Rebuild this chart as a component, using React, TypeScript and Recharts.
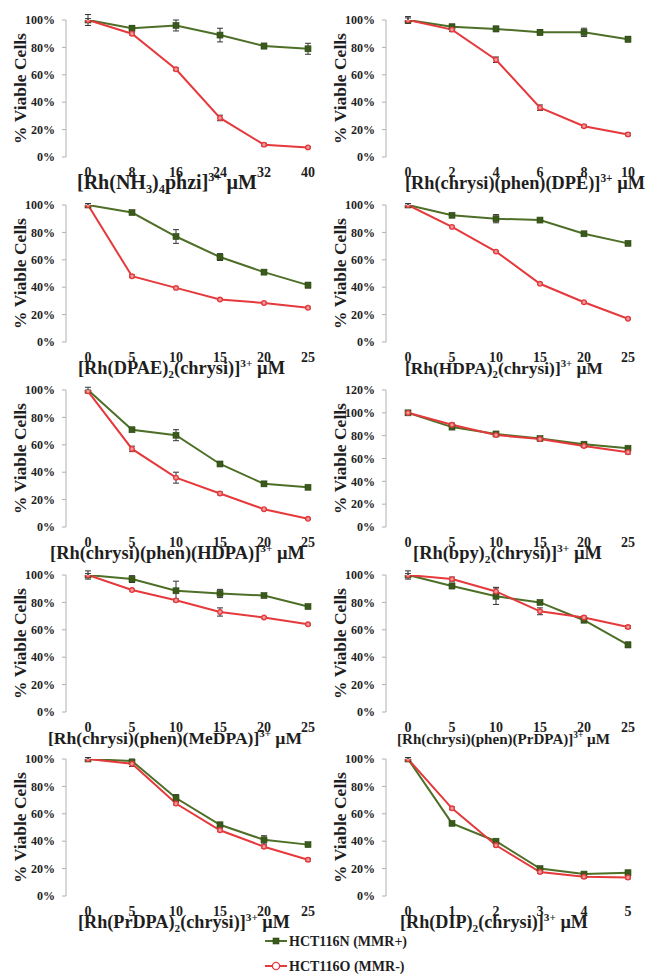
import React from "react";
import { LineChart, Line, XAxis, YAxis, ErrorBar } from "recharts";

const FONT = '"Liberation Serif", "Times New Roman", serif';
const GREEN = "#4d6f27";
const GREEN_DARK = "#3a5a1c";
const RED = "#e5393c";
const AXIS = "#b0b0b0";
const INK = "#1e1e1e";

type Part = [string, "n" | "sub" | "sup"];

// ---------- data ----------
const seriesNames = ["HCT116N (MMR+)", "HCT116O (MMR-)"];
const pctTicks = [0, 20, 40, 60, 80, 100];
const pctTicks120 = [0, 20, 40, 60, 80, 100, 120];

const conc1 = [0, 8, 16, 24, 32, 40];
const green1 = [100, 94, 96, 89, 81, 79];
const greenErr1 = [4, 2, 4, 5, 2, 4];
const red1 = [100, 90, 64, 28.5, 9, 7];
const redErr1 = [1, 1, 1, 2, 1, 0.5];
const title1: Part[] = [["[Rh(NH", "n"], ["3", "sub"], [")", "n"], ["4", "sub"], ["phzi]", "n"], ["3+", "sup"], [" µM", "n"]];

const conc2 = [0, 2, 4, 6, 8, 10];
const green2 = [100, 95, 93.5, 91, 91, 86];
const greenErr2 = [2.5, 2, 2, 2, 3, 2];
const red2 = [100, 93, 71, 36, 22.5, 16.5];
const redErr2 = [1.5, 1.5, 2, 2, 1, 1];
const title2: Part[] = [["[Rh(chrysi)(phen)(DPE)]", "n"], ["3+", "sup"], [" µM", "n"]];

const conc3 = [0, 5, 10, 15, 20, 25];
const green3 = [100, 94.5, 77, 62, 51, 41.5];
const greenErr3 = [1, 1, 5, 2.5, 1.5, 2];
const red3 = [100, 48, 39.5, 31, 28.5, 25];
const redErr3 = [1, 1, 0.5, 0.5, 0.5, 0.5];
const title3: Part[] = [["[Rh(DPAE)", "n"], ["2", "sub"], ["(chrysi)]", "n"], ["3+", "sup"], [" µM", "n"]];

const conc4 = [0, 5, 10, 15, 20, 25];
const green4 = [100, 92.5, 90, 89, 79, 72];
const greenErr4 = [1, 1, 3, 1, 1, 1];
const red4 = [100, 84, 66, 42.5, 29, 17];
const redErr4 = [1, 0.5, 0.5, 0.5, 0.5, 0.5];
const title4: Part[] = [["[Rh(HDPA)", "n"], ["2", "sub"], ["(chrysi)]", "n"], ["3+", "sup"], [" µM", "n"]];

const conc5 = [0, 5, 10, 15, 20, 25];
const green5 = [100, 71, 67, 46, 31.5, 29];
const greenErr5 = [2, 1, 4, 1, 1.5, 1];
const red5 = [99, 57, 36, 24.5, 13, 6];
const redErr5 = [1, 2, 4, 1, 0.5, 0.5];
const title5: Part[] = [["[Rh(chrysi)(phen)(HDPA)]", "n"], ["3+", "sup"], [" µM", "n"]];

const conc6 = [0, 5, 10, 15, 20, 25];
const green6 = [100, 87.5, 81.5, 77.5, 72.5, 69];
const greenErr6 = [1, 1.5, 1, 1, 1, 1];
const red6 = [100, 89.5, 80.5, 77, 71, 65.5];
const redErr6 = [1, 1.5, 1, 1, 1, 1.5];
const title6: Part[] = [["[Rh(bpy)", "n"], ["2", "sub"], ["(chrysi)]", "n"], ["3+", "sup"], [" µM", "n"]];

const conc7 = [0, 5, 10, 15, 20, 25];
const green7 = [100, 97, 88.5, 86.5, 85, 77];
const greenErr7 = [3, 2.5, 7, 3, 1, 1];
const red7 = [100, 89, 81.5, 73, 69, 64];
const redErr7 = [1, 0.5, 1, 3, 0.5, 0.5];
const title7: Part[] = [["[Rh(chrysi)(phen)(MeDPA)]", "n"], ["3+", "sup"], [" µM", "n"]];

const conc8 = [0, 5, 10, 15, 20, 25];
const green8 = [100, 92, 84.5, 80, 67, 49];
const greenErr8 = [3, 2, 6, 1, 1, 2];
const red8 = [100, 97, 88, 73.5, 69, 62];
const redErr8 = [1, 1.5, 3, 2.5, 1, 1];
const title8: Part[] = [["[Rh(chrysi)(phen)(PrDPA)]", "n"], ["3+", "sup"], [" µM", "n"]];

const conc9 = [0, 5, 10, 15, 20, 25];
const green9 = [100, 98.5, 71.5, 52, 41, 37.5];
const greenErr9 = [1, 1.5, 2.5, 1, 3, 1];
const red9 = [100, 96.5, 67.5, 48, 36, 26.5];
const redErr9 = [1, 2, 1, 1, 1, 1];
const title9: Part[] = [["[Rh(PrDPA)", "n"], ["2", "sub"], ["(chrysi)]", "n"], ["3+", "sup"], [" µM", "n"]];

const conc10 = [0, 1, 2, 3, 4, 5];
const green10 = [100, 53, 40, 20, 16, 17];
const greenErr10 = [1, 1, 1, 1, 1, 1];
const red10 = [100, 64, 37, 17.5, 14, 13.5];
const redErr10 = [1, 1, 1, 1, 1, 1];
const title10: Part[] = [["[Rh(DIP)", "n"], ["2", "sub"], ["(chrysi)]", "n"], ["3+", "sup"], [" µM", "n"]];

const panels = [
  { conc: conc1, green: green1, greenErr: greenErr1, red: red1, redErr: redErr1, title: title1, ticks: pctTicks },
  { conc: conc2, green: green2, greenErr: greenErr2, red: red2, redErr: redErr2, title: title2, ticks: pctTicks },
  { conc: conc3, green: green3, greenErr: greenErr3, red: red3, redErr: redErr3, title: title3, ticks: pctTicks },
  { conc: conc4, green: green4, greenErr: greenErr4, red: red4, redErr: redErr4, title: title4, ticks: pctTicks },
  { conc: conc5, green: green5, greenErr: greenErr5, red: red5, redErr: redErr5, title: title5, ticks: pctTicks },
  { conc: conc6, green: green6, greenErr: greenErr6, red: red6, redErr: redErr6, title: title6, ticks: pctTicks120 },
  { conc: conc7, green: green7, greenErr: greenErr7, red: red7, redErr: redErr7, title: title7, ticks: pctTicks },
  { conc: conc8, green: green8, greenErr: greenErr8, red: red8, redErr: redErr8, title: title8, ticks: pctTicks },
  { conc: conc9, green: green9, greenErr: greenErr9, red: red9, redErr: redErr9, title: title9, ticks: pctTicks },
  { conc: conc10, green: green10, greenErr: greenErr10, red: red10, redErr: redErr10, title: title10, ticks: pctTicks },
];

// ---------- layout (positions / sizes only) ----------
const rowTops = [0, 185, 370, 555, 739];
const colLefts = [0, 320];
const titleLayout = [
  { x: 77, w: 180, fs: 20 }, { x: 85, w: 240, fs: 18.5 },
  { x: 78, w: 207, fs: 18 }, { x: 85, w: 198, fs: 17.5 },
  { x: 50, w: 255, fs: 18 }, { x: 93, w: 189, fs: 18 },
  { x: 48, w: 254, fs: 17.5 }, { x: 77, w: 213, fs: 15.5 },
  { x: 78, w: 212, fs: 18 }, { x: 80, w: 188, fs: 18 },
];
const CHART_W = 330;
const CHART_H = 200;

const GreenSquare = (props: any) => {
  const { cx, cy } = props;
  if (cx == null || cy == null) return null;
  return <rect x={cx - 3} y={cy - 3} width={6} height={6} fill={GREEN_DARK} stroke="#2f4a16" strokeWidth={0.6} />;
};

const RedCircle = (props: any) => {
  const { cx, cy } = props;
  if (cx == null || cy == null) return null;
  return <circle cx={cx} cy={cy} r={2.3} fill="#f19a9a" stroke={RED} strokeWidth={1.3} />;
};

const YTitle = (props: any) => {
  const vb = props.viewBox || { x: 0, y: 0, width: 0, height: 0 };
  const x = vb.x + 20;
  const y = vb.y + vb.height / 2;
  return (
    <text x={x} y={y} transform={`rotate(-90 ${x} ${y})`} textAnchor="middle" dominantBaseline="central"
      fontFamily={FONT} fontWeight="bold" fontSize={17.5} fill={INK}>
      % Viable Cells
    </text>
  );
};

const XTitle = (props: any) => {
  const { viewBox, parts, startX, textW, fs } = props;
  const y = (viewBox ? viewBox.y : 0) + 32;
  const small = fs * 0.62;
  const subShift = fs * 0.22;
  const supShift = -fs * 0.4;
  let shift = 0;
  const spans = (parts as Part[]).map(([t, k], i) => {
    const target = k === "sub" ? subShift : k === "sup" ? supShift : 0;
    const dy = target - shift;
    shift = target;
    return (
      <tspan key={i} dy={dy} fontSize={k === "n" ? fs : small} style={{ whiteSpace: "pre" }}>
        {t}
      </tspan>
    );
  });
  return (
    <text x={startX} y={y} textLength={textW} lengthAdjust="spacingAndGlyphs" fontFamily={FONT}
      fontWeight="bold" fontSize={fs} fill={INK} style={{ whiteSpace: "pre" }}>
      {spans}
    </text>
  );
};

const Panel = ({ p, idx }: { p: (typeof panels)[number]; idx: number }) => {
  const row = Math.floor(idx / 2);
  const col = idx % 2;
  const data = p.conc.map((c, i) => ({
    x: String(c),
    g: p.green[i],
    ge: p.greenErr[i],
    r: p.red[i],
    re: p.redErr[i],
  }));
  const frameTicks = p.conc.map((_, i) => i).concat(p.conc.length);
  const yMax = p.ticks[p.ticks.length - 1];
  const tl = titleLayout[idx];
  return (
    <div style={{ position: "absolute", left: colLefts[col], top: rowTops[row], width: CHART_W, height: CHART_H }}>
      <LineChart width={CHART_W} height={CHART_H} data={data} margin={{ top: 20, right: 0, bottom: 0, left: 0 }}
        style={{ overflow: "visible" }}>
        <XAxis xAxisId="frame" type="number" domain={[0, p.conc.length]} ticks={frameTicks} allowDataOverflow
          height={0} tickSize={4} tickFormatter={() => ""} axisLine={{ stroke: AXIS }} tickLine={{ stroke: AXIS }} />
        <XAxis xAxisId="cat" dataKey="x" height={43} axisLine={false} tickLine={false} tickSize={0} tickMargin={10}
          padding={{ left: 22, right: 22 }} interval={0}
          tick={{ fill: INK, fontSize: 14, fontWeight: "bold", fontFamily: FONT }}
          label={<XTitle parts={p.title} startX={tl.x} textW={tl.w} fs={tl.fs} />} />
        <YAxis width={66} domain={[0, yMax]} ticks={p.ticks} allowDataOverflow interval={0}
          tickFormatter={(v: number) => `${v}%`} tickSize={4} tickMargin={7}
          axisLine={{ stroke: AXIS }} tickLine={{ stroke: AXIS }}
          tick={{ fill: INK, fontSize: 12, fontWeight: "bold", fontFamily: FONT }}
          label={<YTitle />} />
        <Line xAxisId="cat" dataKey="g" name={seriesNames[0]} stroke={GREEN} strokeWidth={2}
          dot={<GreenSquare />} activeDot={false} isAnimationActive={false}>
          <ErrorBar dataKey="ge" width={3} stroke="#333" strokeWidth={1} direction="y" />
        </Line>
        <Line xAxisId="cat" dataKey="r" name={seriesNames[1]} stroke={RED} strokeWidth={2}
          dot={<RedCircle />} activeDot={false} isAnimationActive={false}>
          <ErrorBar dataKey="re" width={3} stroke="#333" strokeWidth={1} direction="y" />
        </Line>
      </LineChart>
    </div>
  );
};

const LegendBlock = () => (
  <svg width={648} height={54} style={{ position: "absolute", left: 0, top: 925 }}>
    <line x1={265} x2={287} y1={16} y2={16} stroke={GREEN} strokeWidth={2} />
    <rect x={273} y={13} width={6} height={6} fill={GREEN_DARK} stroke="#2f4a16" strokeWidth={0.6} />
    <text x={289} y={16} dominantBaseline="central" fontFamily={FONT} fontWeight="bold" fontSize={14} fill={INK}>
      {seriesNames[0]}
    </text>
    <line x1={265} x2={287} y1={41} y2={41} stroke={RED} strokeWidth={2} />
    <circle cx={276} cy={41} r={3.6} fill="#fff" stroke={RED} strokeWidth={1.3} />
    <text x={289} y={41} dominantBaseline="central" fontFamily={FONT} fontWeight="bold" fontSize={14} fill={INK}>
      {seriesNames[1]}
    </text>
  </svg>
);

export default function App() {
  return (
    <div style={{ position: "absolute", left: 0, top: 0, width: 648, height: 979, overflow: "hidden", background: "#fff" }}>
      {panels.map((p, i) => (
        <Panel key={i} p={p} idx={i} />
      ))}
      <LegendBlock />
    </div>
  );
}
